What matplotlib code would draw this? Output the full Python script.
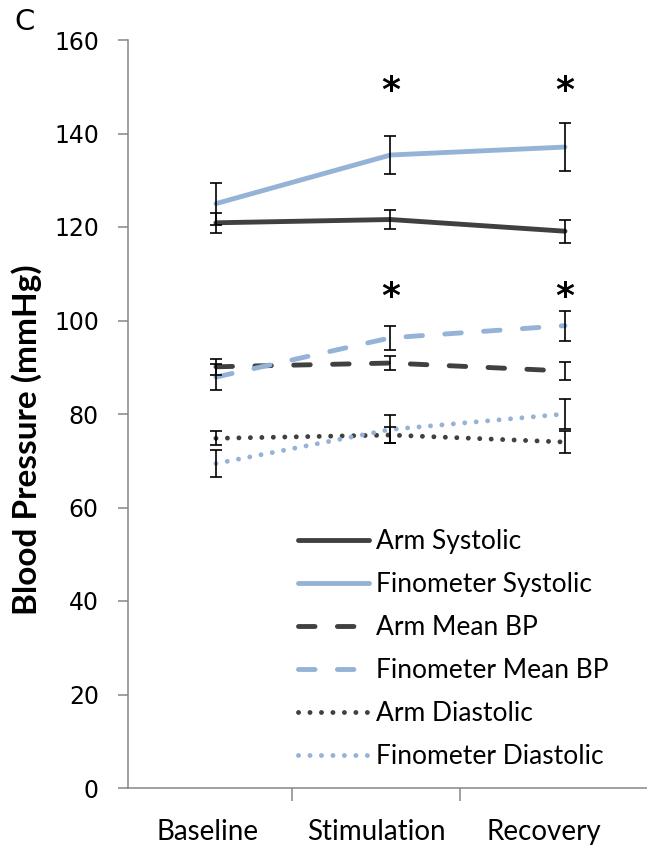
import matplotlib
matplotlib.use("Agg")
import matplotlib.pyplot as plt

plt.rcParams.update({"font.family": "Lato", "font.size": 20})

phases = ["Baseline", "Stimulation", "Recovery"]

arm_sys = [120.9, 121.6, 119.1]
arm_sys_err = [2.2, 2.1, 2.5]
fino_sys = [125.0, 135.4, 137.1]
fino_sys_err = [4.5, 4.1, 5.1]
arm_map = [90.1, 90.9, 89.2]
arm_map_err = [1.7, 1.4, 1.9]
fino_map = [87.9, 96.3, 98.9]
fino_map_err = [2.8, 2.6, 3.2]
arm_dia = [74.8, 75.5, 74.0]
arm_dia_err = [1.5, 1.8, 2.3]
fino_dia = [69.4, 76.7, 80.0]
fino_dia_err = [2.8, 3.0, 3.3]

# significance markers: (phase index, height)
stars = [(1, 149), (2, 149), (1, 105), (2, 105)]

dark = "#404040"
blue = "#95B3D7"

fig = plt.figure(figsize=(6.47, 8.49), dpi=100)
ax = fig.add_axes([128 / 647, 61 / 849, 519 / 647, 748 / 849])

# category axis (labels + boundary ticks)
ax.set_xlim(-0.476, -0.476 + 519 / 168)
ax.set_ylim(0, 160)
ax.set_xticks([0.5, 1.5])
ax.set_xticklabels([])
ax.set_xticks([0, 1, 2], minor=True)
ax.set_xticklabels(phases, minor=True, fontsize=20)
ax.tick_params(axis="x", which="minor", length=0, pad=22)
ax.tick_params(axis="x", which="major", length=9, width=1.1, color="#868686")
ax.set_yticks(range(0, 161, 20))
ax.tick_params(axis="y", length=7, width=1.1, color="#868686", pad=14)
for lab in ax.get_yticklabels():
    lab.set_fontfamily("DejaVu Sans")
    lab.set_fontsize(17)
for s in ["top", "right"]:
    ax.spines[s].set_visible(False)
for s in ["left", "bottom"]:
    ax.spines[s].set_color("#868686")
    ax.spines[s].set_linewidth(1.1)
ax.set_ylabel("Blood Pressure (mmHg)", fontsize=24, fontweight="bold", labelpad=6)
ax.yaxis.set_label_coords(-0.165, 0.465)

# data sit on a secondary horizontal axis, like the original
ax2 = ax.twiny()
ax2.set_xlim(-0.504, 2.47)
ax2.axis("off")
x = [0, 1, 2]

series = [
    (arm_sys, arm_sys_err, dark, "-", "Arm Systolic"),
    (fino_sys, fino_sys_err, blue, "-", "Finometer Systolic"),
    (arm_map, arm_map_err, dark, (0, (3.4, 4.6)), "Arm Mean BP"),
    (fino_map, fino_map_err, blue, (0, (3.4, 4.6)), "Finometer Mean BP"),
    (arm_dia, arm_dia_err, dark, (0, (0.01, 2.35)), "Arm Diastolic"),
    (fino_dia, fino_dia_err, blue, (0, (0.01, 2.35)), "Finometer Diastolic"),
]
for y, e, c, ls, lab in series:
    ax2.plot(x, y, color=c, ls=ls, lw=3.5, label=lab,
             solid_capstyle="round", dash_capstyle="round")
for y, e, c, ls, lab in series:
    ax2.errorbar(x, y, yerr=e, fmt="none", ecolor="black", elinewidth=1.2,
                 capsize=4, capthick=1.2, zorder=5)

for i, h in stars:
    ax2.text(x[i], h, "*", ha="center", va="center", fontsize=26,
             fontweight="bold", family="DejaVu Sans")

leg = ax2.legend(loc="upper left", bbox_to_anchor=(298 / 647, 1 - 529 / 849),
                 bbox_transform=fig.transFigure, frameon=False, fontsize=19,
                 handlelength=2.7, handletextpad=0.25, labelspacing=0.685,
                 borderpad=0, borderaxespad=0)

fig.text(14 / 647, 1 - 22 / 849, "C", fontsize=21, family="DejaVu Sans",
         va="center", ha="left")

fig.savefig("out.png", dpi=100)
